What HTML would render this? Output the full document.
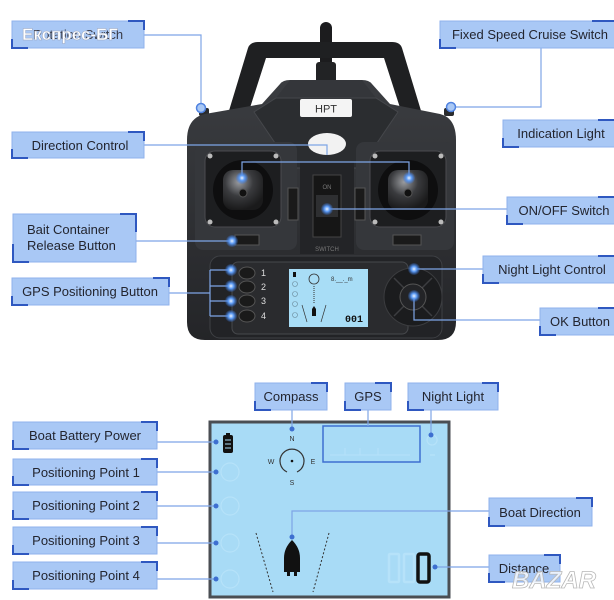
<!DOCTYPE html>
<html><head><meta charset="utf-8"><style>
html,body{margin:0;padding:0;background:#fff;}
svg{display:block;}
</style></head><body>
<svg width="614" height="600" viewBox="0 0 614 600" xmlns="http://www.w3.org/2000/svg" font-family="'Liberation Sans', sans-serif">
<defs>
 <radialGradient id="glow"><stop offset="0" stop-color="#eaf3ff"/><stop offset="0.45" stop-color="#5b9af4"/><stop offset="1" stop-color="#3a78e0" stop-opacity="0.15"/></radialGradient>
 <linearGradient id="bodyg" x1="0" y1="0" x2="0" y2="1"><stop offset="0" stop-color="#3b3d41"/><stop offset="1" stop-color="#242528"/></linearGradient>
 <radialGradient id="stick" cx="0.4" cy="0.3" r="0.7"><stop offset="0" stop-color="#9a9ca0"/><stop offset="0.5" stop-color="#3a3b3e"/><stop offset="1" stop-color="#1a1a1b"/></radialGradient>
</defs>

<!-- ================= CONTROLLER ================= -->
<rect x="320" y="22" width="12" height="70" rx="6" fill="#1c1c1e"/>
<rect x="316" y="62" width="20" height="24" rx="3" fill="#222325"/>
<path d="M228,114 L248,48 Q250,42 258,42 L392,42 Q400,42 402,48 L422,114 L402,114 L384,58 L266,58 L248,114 Z" fill="#1f2022"/>
<rect x="199" y="108" width="10" height="8" rx="2" fill="#2a2b2d"/>
<rect x="444" y="108" width="10" height="8" rx="2" fill="#2a2b2d"/>
<path d="M187,140 Q187,118 205,114 L262,104 L280,84 Q283,80 290,80 L362,80 Q369,80 372,84 L390,104 L440,114 Q456,118 456,140 L456,322 Q456,340 438,340 L205,340 Q187,340 187,322 Z" fill="url(#bodyg)"/>
<path d="M290,80 L362,80 L376,98 L276,98 Z" fill="#34363a"/>
<path d="M276,98 L376,98 L398,112 L360,168 L292,168 L254,112 Z" fill="#2b2d30" stroke="#45474b" stroke-width="1"/>
<rect x="300" y="99" width="52" height="18" rx="2" fill="#f4f4f4"/>
<text x="326" y="112.5" font-size="11" fill="#333" text-anchor="middle">HPT</text>
<ellipse cx="327" cy="144" rx="19" ry="11" fill="#f2f2f2"/>
<rect x="195" y="142" width="102" height="108" rx="8" fill="#35373b"/>
<rect x="356" y="142" width="98" height="108" rx="8" fill="#35373b"/>
<rect x="300" y="162" width="54" height="92" fill="#232427"/>
<rect x="205" y="151" width="76" height="76" rx="10" fill="#1d1e20" stroke="#4a4b4f"/>
<circle cx="243" cy="190" r="30" fill="#0e0e0f"/>
<rect x="223" y="170" width="40" height="40" rx="10" fill="url(#stick)"/>
<circle cx="243" cy="193" r="4" fill="#111" stroke="#555"/>
<circle cx="210" cy="156" r="2.5" fill="#bbb"/><circle cx="276" cy="156" r="2.5" fill="#bbb"/>
<circle cx="210" cy="222" r="2.5" fill="#bbb"/><circle cx="276" cy="222" r="2.5" fill="#bbb"/>
<rect x="370" y="151" width="76" height="76" rx="10" fill="#1d1e20" stroke="#4a4b4f"/>
<circle cx="408" cy="190" r="30" fill="#0e0e0f"/>
<rect x="388" y="170" width="40" height="40" rx="10" fill="url(#stick)"/>
<circle cx="408" cy="193" r="4" fill="#111" stroke="#555"/>
<circle cx="375" cy="156" r="2.5" fill="#bbb"/><circle cx="441" cy="156" r="2.5" fill="#bbb"/>
<circle cx="375" cy="222" r="2.5" fill="#bbb"/><circle cx="441" cy="222" r="2.5" fill="#bbb"/>
<rect x="288" y="188" width="10" height="32" fill="#1a1a1a" stroke="#555"/>
<rect x="355" y="188" width="10" height="32" fill="#1a1a1a" stroke="#555"/>
<rect x="235" y="235" width="24" height="10" fill="#1a1a1a" stroke="#555"/>
<rect x="393" y="235" width="28" height="10" fill="#1a1a1a" stroke="#555"/>
<rect x="313" y="175" width="28" height="62" fill="#161616" stroke="#444"/>
<text x="327" y="189" font-size="6" fill="#777" text-anchor="middle">ON</text>
<rect x="316" y="195" width="22" height="22" fill="#2e2f31"/>
<text x="327" y="251" font-size="6" fill="#777" text-anchor="middle">SWITCH</text>
<rect x="210" y="256" width="232" height="82" rx="10" fill="#222326" stroke="#3e4044"/>
<rect x="232" y="262" width="176" height="72" rx="6" fill="#2a2b2e" stroke="#46484c"/>
<ellipse cx="247" cy="273" rx="8" ry="6" fill="#1a1a1a" stroke="#555"/>
<ellipse cx="247" cy="287" rx="8" ry="6" fill="#1a1a1a" stroke="#555"/>
<ellipse cx="247" cy="301" rx="8" ry="6" fill="#1a1a1a" stroke="#555"/>
<ellipse cx="247" cy="316" rx="8" ry="6" fill="#1a1a1a" stroke="#555"/>
<g font-size="9" fill="#ddd"><text x="261" y="276">1</text><text x="261" y="290">2</text><text x="261" y="304">3</text><text x="261" y="319">4</text></g>
<rect x="289" y="269" width="79" height="58" fill="#a8ddf6"/>
<rect x="293" y="272" width="3" height="5" fill="#111"/>
<g fill="none" stroke="#6a8a9a" stroke-width="0.6"><circle cx="295" cy="284" r="2.5"/><circle cx="295" cy="294" r="2.5"/><circle cx="295" cy="304" r="2.5"/><circle cx="295" cy="315" r="2.5"/></g>
<circle cx="314" cy="279" r="5" fill="none" stroke="#333" stroke-width="0.8"/>
<line x1="314" y1="286" x2="314" y2="304" stroke="#333" stroke-dasharray="1,1"/>
<path d="M314,306 L316,309 L316,316 L312,316 L312,309 Z" fill="#111"/>
<line x1="302" y1="305" x2="307" y2="322" stroke="#333" stroke-width="0.7"/>
<line x1="326" y1="305" x2="321" y2="322" stroke="#333" stroke-width="0.7"/>
<text x="331" y="281" font-size="6" fill="#333">8.__._m</text>
<text x="345" y="322" font-size="10" font-weight="bold" fill="#111" font-family="'Liberation Mono', monospace">001</text>
<circle cx="413" cy="297" r="29" fill="#1b1c1e" stroke="#3b3c3f"/>
<g stroke="#3c3d40" stroke-width="1.5"><line x1="394" y1="278" x2="432" y2="316"/><line x1="432" y1="278" x2="394" y2="316"/></g>
<circle cx="413" cy="297" r="13" fill="#232427" stroke="#555"/>

<!-- ================= CONNECTORS TOP ================= -->
<g stroke="#7ea5e6" stroke-width="1.2" fill="none">
 <path d="M144,35 H201 V104"/>
 <path d="M144,145 H327 V155"/>
 <path d="M242,178 V162 H409 V178"/>
 <path d="M136,241 H232"/>
 <path d="M169,293 H210 M210,270 V316 M210,270 H231 M210,286 H231 M210,301 H231 M210,316 H231"/>
 <path d="M541,48 V107 H455"/>
 <path d="M327,209 H507"/>
 <path d="M414,269 H483"/>
 <path d="M414,296 V320 H540"/>
</g>
<circle cx="201" cy="108" r="4.5" fill="#a9c8f5" stroke="#4f82e0" stroke-width="1.5"/>
<circle cx="451" cy="107" r="4.5" fill="#a9c8f5" stroke="#4f82e0" stroke-width="1.5"/>
<g fill="url(#glow)">
 <circle cx="242" cy="178" r="6"/><circle cx="409" cy="178" r="6"/><circle cx="327" cy="209" r="6"/>
 <circle cx="232" cy="241" r="6"/>
 <circle cx="231" cy="270" r="6"/><circle cx="231" cy="286" r="6"/><circle cx="231" cy="301" r="6"/><circle cx="231" cy="316" r="6"/>
 <circle cx="414" cy="269" r="6"/><circle cx="414" cy="296" r="6"/>
</g>

<!-- ================= LABELS TOP ================= -->
<g font-size="13" fill="#23252f">
 <rect x="12" y="21" width="132" height="27" fill="#a9c8f5" stroke="#8fb2ec"/>
 <path d="M12,39 V48 H28 M128,21 H144 V30" stroke="#2f58c0" stroke-width="2" fill="none"/>
 <text x="78" y="39" text-anchor="middle" fill="#3a3c48">Rotation Switch</text>
 <text x="22" y="40" font-size="17" font-weight="bold" fill="#ffffff" stroke="#9aa6c0" stroke-width="0.5">Експрес-БГ</text>

 <rect x="12" y="132" width="132" height="26" fill="#a9c8f5" stroke="#8fb2ec"/>
 <path d="M12,149 V158 H28 M128,132 H144 V141" stroke="#2f58c0" stroke-width="2" fill="none"/>
 <text x="80" y="150" text-anchor="middle">Direction Control</text>

 <rect x="13" y="214" width="123" height="48" fill="#a9c8f5" stroke="#8fb2ec"/>
 <path d="M13,244 V262 H29 M120,214 H136 V232" stroke="#2f58c0" stroke-width="2" fill="none"/>
 <text x="27" y="234">Bait Container</text>
 <text x="27" y="250">Release Button</text>

 <rect x="12" y="278" width="157" height="27" fill="#a9c8f5" stroke="#8fb2ec"/>
 <path d="M12,296 V305 H28 M153,278 H169 V287" stroke="#2f58c0" stroke-width="2" fill="none"/>
 <text x="90" y="296" text-anchor="middle">GPS Positioning Button</text>

 <rect x="440" y="21" width="176" height="27" fill="#a9c8f5" stroke="#8fb2ec"/>
 <path d="M440,39 V48 H456 M592,21 H616" stroke="#2f58c0" stroke-width="2" fill="none"/>
 <text x="530" y="39" text-anchor="middle">Fixed Speed Cruise Switch</text>

 <rect x="503" y="120" width="113" height="27" fill="#a9c8f5" stroke="#8fb2ec"/>
 <path d="M503,138 V147 H519 M598,120 H616" stroke="#2f58c0" stroke-width="2" fill="none"/>
 <text x="561" y="138" text-anchor="middle">Indication Light</text>

 <rect x="507" y="197" width="109" height="27" fill="#a9c8f5" stroke="#8fb2ec"/>
 <path d="M507,215 V224 H523 M598,197 H616" stroke="#2f58c0" stroke-width="2" fill="none"/>
 <text x="564" y="215" text-anchor="middle">ON/OFF Switch</text>

 <rect x="483" y="256" width="133" height="27" fill="#a9c8f5" stroke="#8fb2ec"/>
 <path d="M483,274 V283 H499 M598,256 H616" stroke="#2f58c0" stroke-width="2" fill="none"/>
 <text x="552" y="274" text-anchor="middle">Night Light Control</text>

 <rect x="540" y="308" width="76" height="27" fill="#a9c8f5" stroke="#8fb2ec"/>
 <path d="M540,326 V335 H556 M598,308 H616" stroke="#2f58c0" stroke-width="2" fill="none"/>
 <text x="580" y="326" text-anchor="middle">OK Button</text>
</g>

<!-- ================= BOTTOM LCD ================= -->
<rect x="210" y="422" width="239" height="175" fill="#a8dbf6" stroke="#4a4e53" stroke-width="3"/>
<rect x="223" y="435" width="10" height="18" rx="2" fill="#111"/>
<rect x="226" y="433" width="4" height="3" fill="#111"/>
<g stroke="#a8dbf6" stroke-width="1"><line x1="225" y1="440" x2="231" y2="440"/><line x1="225" y1="444" x2="231" y2="444"/><line x1="225" y1="448" x2="231" y2="448"/></g>
<g fill="none" stroke="#b6e2f9" stroke-width="1.2"><circle cx="230" cy="472" r="9"/><circle cx="230" cy="506" r="9"/><circle cx="230" cy="543" r="9"/><circle cx="230" cy="579" r="9"/></g>
<g font-size="7" fill="#333" text-anchor="middle"><text x="292" y="441">N</text><text x="271" y="464">W</text><text x="313" y="464">E</text><text x="292" y="485">S</text></g>
<path d="M287,472 A12,12 0 1 1 297,472" fill="none" stroke="#333" stroke-width="1.2"/>
<circle cx="292" cy="461" r="1.3" fill="#111"/>
<rect x="323" y="426" width="97" height="36" fill="none" stroke="#3d6fd0" stroke-width="1.5"/>
<g fill="none" stroke="#b6e2f9" stroke-width="1"><path d="M330,455 H410 M345,448 V455 M360,448 V455 M378,448 V455"/></g>
<path d="M432,445 a5,5 0 1 1 0.1,0 M430,455 h5" fill="none" stroke="#b6e2f9" stroke-width="1.2"/>
<line x1="256" y1="533" x2="273" y2="592" stroke="#333" stroke-width="1" stroke-dasharray="2,2"/>
<line x1="329" y1="533" x2="313" y2="592" stroke="#333" stroke-width="1" stroke-dasharray="2,2"/>
<path d="M292,540 Q300,548 300,558 L300,572 L297,572 L297,576 L294,576 L294,572 L290,572 L290,576 L287,576 L287,572 L284,572 L284,558 Q284,548 292,540 Z" fill="#111"/>
<g fill="none" stroke="#b6e2f9" stroke-width="2.5"><rect x="389" y="554" width="10" height="28" rx="1"/><rect x="404" y="554" width="10" height="28" rx="1"/></g>
<rect x="418" y="554" width="11" height="28" rx="2" fill="none" stroke="#111" stroke-width="3.5"/>

<g stroke="#7ea5e6" stroke-width="1.2" fill="none">
 <path d="M292,410 V429"/>
 <path d="M368,410 V426"/>
 <path d="M431,410 V435"/>
 <path d="M157,442 H216"/>
 <path d="M157,472 H216"/>
 <path d="M157,506 H216"/>
 <path d="M157,543 H216"/>
 <path d="M157,579 H216"/>
 <path d="M489,511 H292 V537"/>
 <path d="M489,567 H435"/>
</g>
<g fill="#3d6fd0">
 <circle cx="292" cy="429" r="2.5"/><circle cx="431" cy="435" r="2.5"/>
 <circle cx="216" cy="442" r="2.5"/><circle cx="216" cy="472" r="2.5"/><circle cx="216" cy="506" r="2.5"/><circle cx="216" cy="543" r="2.5"/><circle cx="216" cy="579" r="2.5"/>
 <circle cx="292" cy="537" r="2.5"/><circle cx="435" cy="567" r="2.5"/>
</g>

<g font-size="13" fill="#23252f">
 <rect x="255" y="383" width="72" height="27" fill="#a9c8f5" stroke="#8fb2ec"/>
 <path d="M255,401 V410 H271 M311,383 H327 V392" stroke="#2f58c0" stroke-width="2" fill="none"/>
 <text x="291" y="401" text-anchor="middle">Compass</text>

 <rect x="345" y="383" width="46" height="27" fill="#a9c8f5" stroke="#8fb2ec"/>
 <path d="M345,401 V410 H361 M375,383 H391 V392" stroke="#2f58c0" stroke-width="2" fill="none"/>
 <text x="368" y="401" text-anchor="middle">GPS</text>

 <rect x="408" y="383" width="90" height="27" fill="#a9c8f5" stroke="#8fb2ec"/>
 <path d="M408,401 V410 H424 M482,383 H498 V392" stroke="#2f58c0" stroke-width="2" fill="none"/>
 <text x="453" y="401" text-anchor="middle">Night Light</text>

 <rect x="13" y="422" width="144" height="27" fill="#a9c8f5" stroke="#8fb2ec"/>
 <path d="M13,440 V449 H29 M141,422 H157 V431" stroke="#2f58c0" stroke-width="2" fill="none"/>
 <text x="85" y="440" text-anchor="middle">Boat Battery Power</text>

 <rect x="13" y="459" width="144" height="26" fill="#a9c8f5" stroke="#8fb2ec"/>
 <path d="M13,476 V485 H29 M141,459 H157 V468" stroke="#2f58c0" stroke-width="2" fill="none"/>
 <text x="86" y="477" text-anchor="middle">Positioning Point 1</text>

 <rect x="13" y="492" width="144" height="27" fill="#a9c8f5" stroke="#8fb2ec"/>
 <path d="M13,510 V519 H29 M141,492 H157 V501" stroke="#2f58c0" stroke-width="2" fill="none"/>
 <text x="86" y="510" text-anchor="middle">Positioning Point 2</text>

 <rect x="13" y="527" width="144" height="27" fill="#a9c8f5" stroke="#8fb2ec"/>
 <path d="M13,545 V554 H29 M141,527 H157 V536" stroke="#2f58c0" stroke-width="2" fill="none"/>
 <text x="86" y="545" text-anchor="middle">Positioning Point 3</text>

 <rect x="13" y="562" width="144" height="27" fill="#a9c8f5" stroke="#8fb2ec"/>
 <path d="M13,580 V589 H29 M141,562 H157 V571" stroke="#2f58c0" stroke-width="2" fill="none"/>
 <text x="86" y="580" text-anchor="middle">Positioning Point 4</text>

 <rect x="489" y="498" width="103" height="28" fill="#a9c8f5" stroke="#8fb2ec"/>
 <path d="M489,517 V526 H505 M576,498 H592 V507" stroke="#2f58c0" stroke-width="2" fill="none"/>
 <text x="540" y="517" text-anchor="middle">Boat Direction</text>

 <rect x="489" y="555" width="71" height="27" fill="#a9c8f5" stroke="#8fb2ec"/>
 <path d="M489,573 V582 H505 M544,555 H560 V564" stroke="#2f58c0" stroke-width="2" fill="none"/>
 <text x="524" y="573" text-anchor="middle">Distance</text>
</g>
<text x="512" y="588" font-size="24" font-weight="bold" font-style="italic" fill="#ffffff" fill-opacity="0.75" stroke="#b8b8b8" stroke-width="0.8">BAZAR</text>
</svg>
</body></html>
